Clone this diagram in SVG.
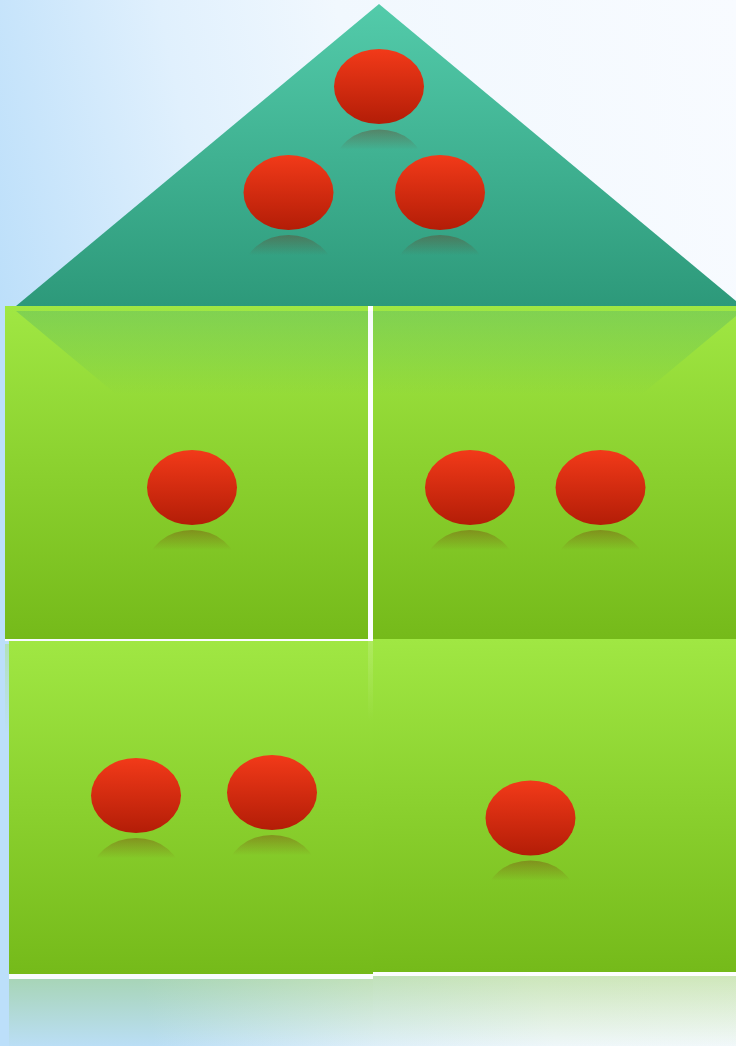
<svg xmlns="http://www.w3.org/2000/svg" width="736" height="1046" viewBox="0 0 736 1046">
  <defs>
    <linearGradient id="bg" x1="0" y1="0.3" x2="1" y2="0">
      <stop offset="0" stop-color="#bcdffa"/>
      <stop offset="0.28" stop-color="#e0f0fd"/>
      <stop offset="0.5" stop-color="#f1f8fe"/>
      <stop offset="1" stop-color="#f8fbff"/>
    </linearGradient>
    <linearGradient id="roofG" x1="0" y1="0" x2="0" y2="1">
      <stop offset="0" stop-color="#53cbaa"/>
      <stop offset="1" stop-color="#2d997a"/>
    </linearGradient>
    <linearGradient id="boxG" x1="0" y1="0" x2="0" y2="1">
      <stop offset="0" stop-color="#a0e743"/>
      <stop offset="1" stop-color="#75ba1a"/>
    </linearGradient>
    <linearGradient id="roofRef" gradientUnits="userSpaceOnUse" x1="0" y1="311" x2="0" y2="395">
      <stop offset="0" stop-color="#2d997a" stop-opacity="0.27"/>
      <stop offset="1" stop-color="#2d997a" stop-opacity="0"/>
    </linearGradient>
    <linearGradient id="ballG" x1="0" y1="0" x2="0" y2="1">
      <stop offset="0" stop-color="#f23a19"/>
      <stop offset="1" stop-color="#b31d07"/>
    </linearGradient>
    <linearGradient id="ballRef" x1="0" y1="0" x2="0" y2="1">
      <stop offset="0" stop-color="#7a1a06" stop-opacity="0.32"/>
      <stop offset="0.27" stop-color="#7a1a06" stop-opacity="0"/>
    </linearGradient>
    <linearGradient id="boxRef" x1="0" y1="0" x2="0" y2="1">
      <stop offset="0" stop-color="#78bd1c" stop-opacity="0.3"/>
      <stop offset="1" stop-color="#78bd1c" stop-opacity="0.02"/>
    </linearGradient>
    <linearGradient id="sideRef" x1="0" y1="0" x2="0" y2="1">
      <stop offset="0" stop-color="#9fe643" stop-opacity="0.35"/>
      <stop offset="1" stop-color="#9fe643" stop-opacity="0"/>
    </linearGradient>
    <linearGradient id="stripeG" x1="0" y1="0" x2="0" y2="1">
      <stop offset="0" stop-color="#ffffff" stop-opacity="0.15"/>
      <stop offset="1" stop-color="#ffffff" stop-opacity="0"/>
    </linearGradient>
  </defs>
  <style>
    .box { fill: url(#boxG); }
    .ball { fill: url(#ballG); }
    .ballref { fill: url(#ballRef); }
    .gap { fill: #ffffff; fill-opacity: 0.88; }
    .ref { fill: url(#boxRef); }
  </style>

  <rect x="0" y="0" width="736" height="1046" fill="url(#bg)"/>

  <g id="roof">
    <polygon points="379,4 742,306 16,306" fill="url(#roofG)"/>
    <ellipse class="ballref" cx="379" cy="167" rx="45" ry="37.5"/>
    <ellipse class="ball" cx="379" cy="86.5" rx="45" ry="37.5"/>
    <ellipse class="ballref" cx="288.5" cy="272.5" rx="45" ry="37.5"/>
    <ellipse class="ball" cx="288.5" cy="192.5" rx="45" ry="37.5"/>
    <ellipse class="ballref" cx="440" cy="272.5" rx="45" ry="37.5"/>
    <ellipse class="ball" cx="440" cy="192.5" rx="45" ry="37.5"/>
  </g>

  <g id="box-top-left">
    <rect class="box" x="5" y="306" width="363" height="333"/>
  </g>
  <g id="box-top-right">
    <rect class="box" x="373" y="306" width="363" height="333"/>
  </g>

  <g id="reflections">
    <polygon points="16,311 742,311 379,613" fill="url(#roofRef)"/>
    <rect x="5" y="644" width="4" height="90" fill="url(#sideRef)"/>
  </g>

  <g id="box-bottom-left">
    <rect class="box" x="9" y="641" width="364" height="333"/>
    <rect x="368" y="641" width="5" height="80" fill="url(#stripeG)"/>
  </g>
  <g id="box-bottom-right">
    <rect class="box" x="373" y="639" width="363" height="333"/>
  </g>

  <g id="gaps">
    <rect class="gap" x="368" y="306" width="5" height="335"/>
    <rect class="gap" x="5" y="639" width="368" height="2"/>
    <rect class="gap" x="9" y="974" width="364" height="5"/>
    <rect class="gap" x="373" y="972" width="363" height="4"/>
  </g>

  <g id="floor-reflections">
    <rect class="ref" x="9" y="979" width="364" height="67"/>
    <rect class="ref" x="373" y="976" width="363" height="70"/>
  </g>

  <g id="balls-top-left">
    <ellipse class="ballref" cx="192" cy="567.5" rx="45" ry="37.5"/>
    <ellipse class="ball" cx="192" cy="487.5" rx="45" ry="37.5"/>
  </g>
  <g id="balls-top-right">
    <ellipse class="ballref" cx="470" cy="567.5" rx="45" ry="37.5"/>
    <ellipse class="ball" cx="470" cy="487.5" rx="45" ry="37.5"/>
    <ellipse class="ballref" cx="600.5" cy="567.5" rx="45" ry="37.5"/>
    <ellipse class="ball" cx="600.5" cy="487.5" rx="45" ry="37.5"/>
  </g>
  <g id="balls-bottom-left">
    <ellipse class="ballref" cx="136" cy="875.5" rx="45" ry="37.5"/>
    <ellipse class="ball" cx="136" cy="795.5" rx="45" ry="37.5"/>
    <ellipse class="ballref" cx="272" cy="872.5" rx="45" ry="37.5"/>
    <ellipse class="ball" cx="272" cy="792.5" rx="45" ry="37.5"/>
  </g>
  <g id="balls-bottom-right">
    <ellipse class="ballref" cx="530.5" cy="898" rx="45" ry="37.5"/>
    <ellipse class="ball" cx="530.5" cy="818" rx="45" ry="37.5"/>
  </g>
</svg>
